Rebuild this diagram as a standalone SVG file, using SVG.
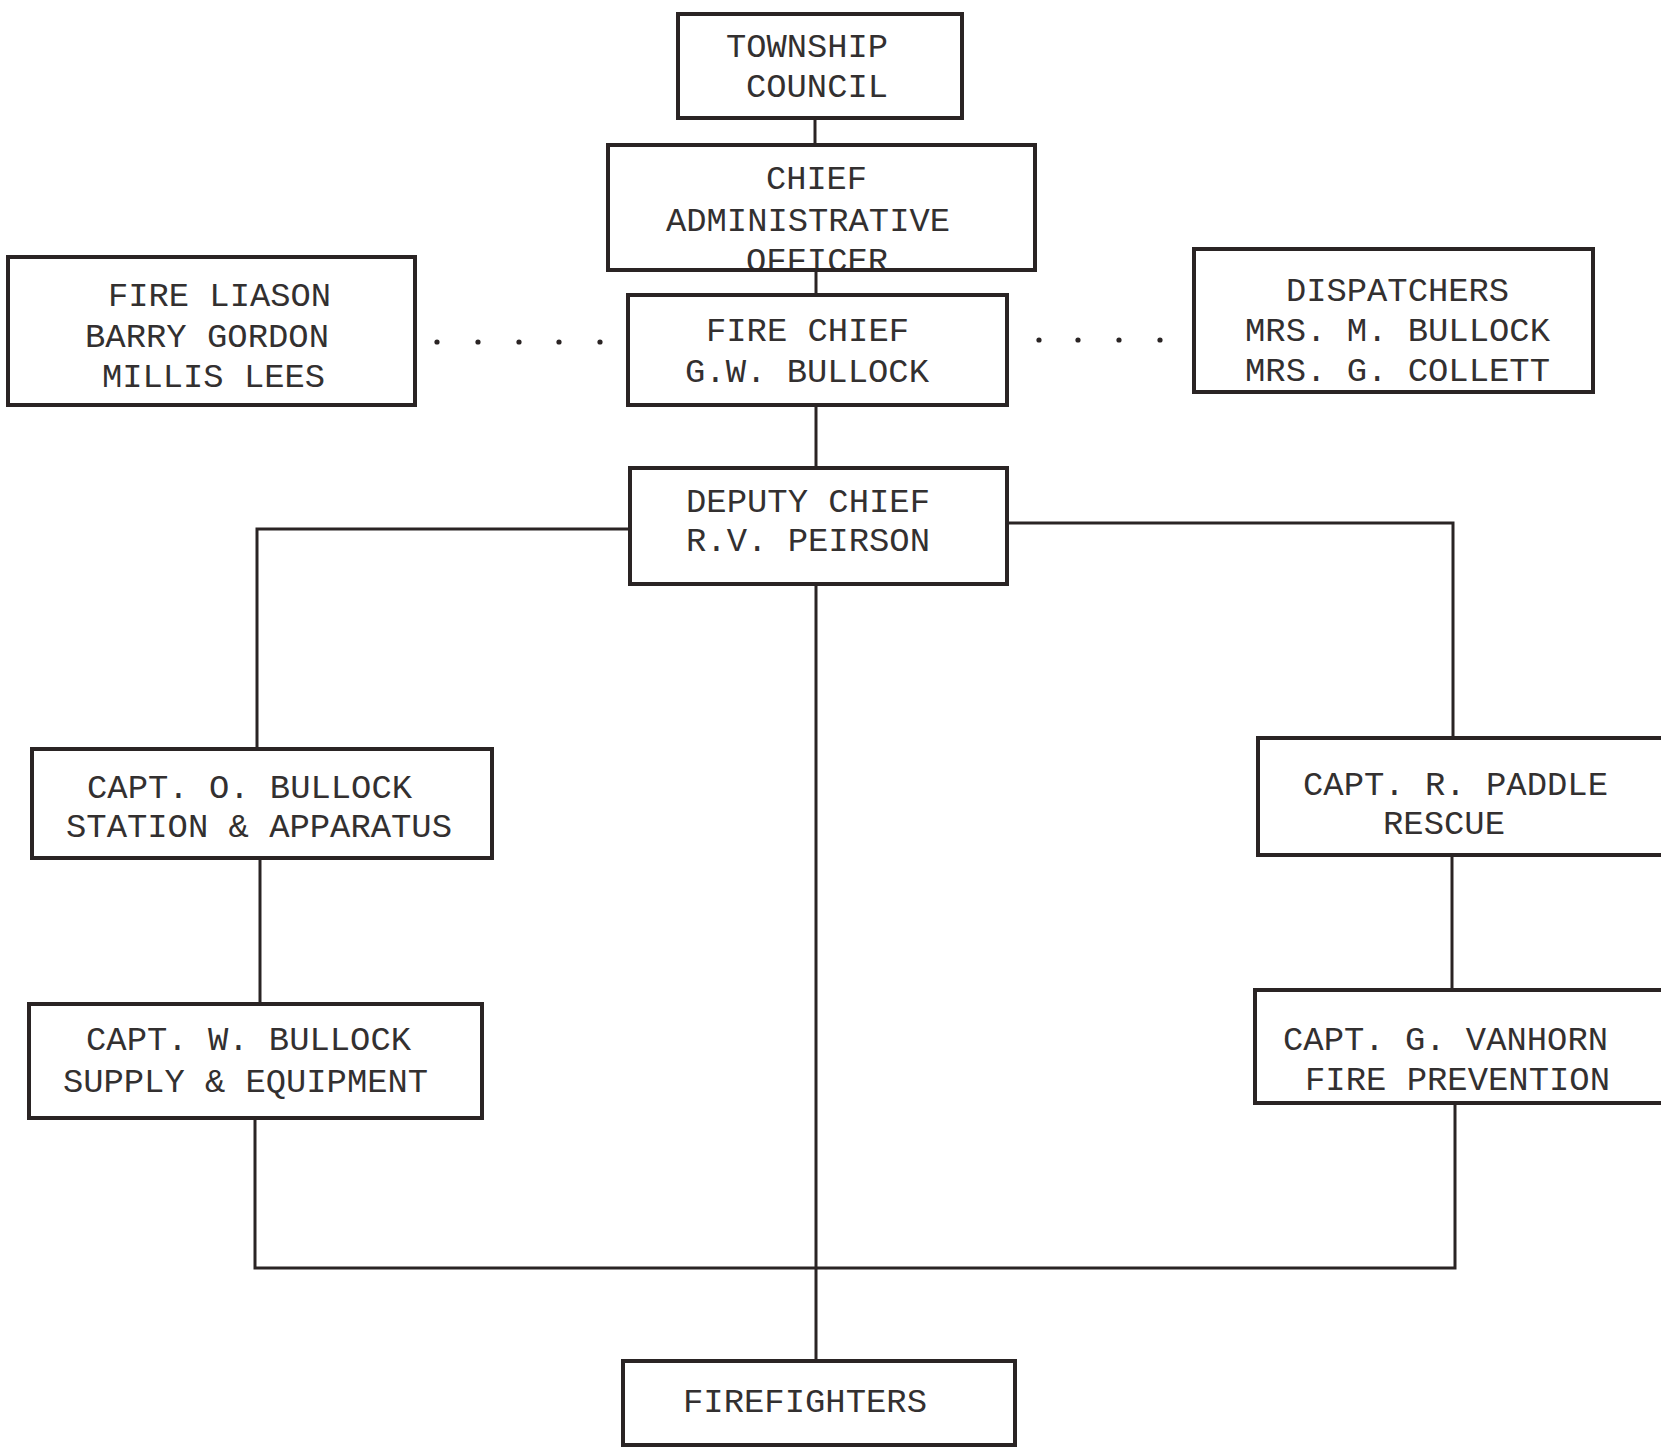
<svg xmlns="http://www.w3.org/2000/svg" width="1661" height="1448" viewBox="0 0 1661 1448">
<style>
.box{fill:none;stroke:#2a2424;stroke-width:4}
.ln{fill:none;stroke:#2a2424;stroke-width:3}
.t{font-family:"Liberation Mono","Courier New",monospace;font-size:34px;fill:#333030}
.dot{fill:#2a2424}
</style>
<rect width="1661" height="1448" fill="#ffffff"/>
<g id="connectors">
<path class="ln" d="M815 118V145"/>
<path class="ln" d="M816 270V295"/>
<path class="ln" d="M816 405V467"/>
<path class="ln" d="M630 529H257V749"/>
<path class="ln" d="M1007 523H1453V738"/>
<path class="ln" d="M260 858V1004"/>
<path class="ln" d="M255 1118V1268H1455V1103"/>
<path class="ln" d="M1452 855V990"/>
<path class="ln" d="M816 584V1361"/>
<g id="dots-left">
<circle class="dot" cx="437" cy="342" r="2.6"/>
<circle class="dot" cx="478" cy="342" r="2.6"/>
<circle class="dot" cx="519" cy="342" r="2.6"/>
<circle class="dot" cx="559" cy="342" r="2.6"/>
<circle class="dot" cx="600" cy="342" r="2.6"/>
</g>
<g id="dots-right">
<circle class="dot" cx="1039" cy="340" r="2.6"/>
<circle class="dot" cx="1078" cy="340" r="2.6"/>
<circle class="dot" cx="1119" cy="340" r="2.6"/>
<circle class="dot" cx="1160" cy="340" r="2.6"/>
</g>
</g>
<g id="township">
<rect class="box" x="678" y="14" width="284" height="104"/>
<text class="t" x="726" y="57" textLength="162" lengthAdjust="spacingAndGlyphs">TOWNSHIP</text>
<text class="t" x="746" y="97" textLength="142" lengthAdjust="spacingAndGlyphs">COUNCIL</text>
</g>
<g id="cao">
<text class="t" x="766" y="189" textLength="101" lengthAdjust="spacingAndGlyphs">CHIEF</text>
<text class="t" x="666" y="231" textLength="284" lengthAdjust="spacingAndGlyphs">ADMINISTRATIVE</text>
<text class="t" x="746" y="271" textLength="142" lengthAdjust="spacingAndGlyphs">OFFICER</text>
<rect class="box" x="608" y="145" width="427" height="125"/>
</g>
<g id="fire-chief">
<rect class="box" x="628" y="295" width="379" height="110"/>
<text class="t" x="706" y="341" textLength="203" lengthAdjust="spacingAndGlyphs">FIRE CHIEF</text>
<text class="t" x="685" y="382" textLength="244" lengthAdjust="spacingAndGlyphs">G.W. BULLOCK</text>
</g>
<g id="fire-liason">
<rect class="box" x="8" y="257" width="407" height="148"/>
<text class="t" x="108" y="306" textLength="223" lengthAdjust="spacingAndGlyphs">FIRE LIASON</text>
<text class="t" x="85" y="347" textLength="244" lengthAdjust="spacingAndGlyphs">BARRY GORDON</text>
<text class="t" x="102" y="387" textLength="223" lengthAdjust="spacingAndGlyphs">MILLIS LEES</text>
</g>
<g id="dispatchers">
<rect class="box" x="1194" y="249" width="399" height="143"/>
<text class="t" x="1286" y="301" textLength="223" lengthAdjust="spacingAndGlyphs">DISPATCHERS</text>
<text class="t" x="1245" y="341" textLength="305" lengthAdjust="spacingAndGlyphs">MRS. M. BULLOCK</text>
<text class="t" x="1245" y="381" textLength="305" lengthAdjust="spacingAndGlyphs">MRS. G. COLLETT</text>
</g>
<g id="deputy-chief">
<rect class="box" x="630" y="468" width="377" height="116"/>
<text class="t" x="686" y="512" textLength="244" lengthAdjust="spacingAndGlyphs">DEPUTY CHIEF</text>
<text class="t" x="686" y="551" textLength="244" lengthAdjust="spacingAndGlyphs">R.V. PEIRSON</text>
</g>
<g id="capt-o-bullock">
<rect class="box" x="32" y="749" width="460" height="109"/>
<text class="t" x="87" y="798" textLength="325" lengthAdjust="spacingAndGlyphs">CAPT. O. BULLOCK</text>
<text class="t" x="66" y="837" textLength="386" lengthAdjust="spacingAndGlyphs">STATION &amp; APPARATUS</text>
</g>
<g id="capt-w-bullock">
<rect class="box" x="29" y="1004" width="453" height="114"/>
<text class="t" x="86" y="1050" textLength="325" lengthAdjust="spacingAndGlyphs">CAPT. W. BULLOCK</text>
<text class="t" x="63" y="1092" textLength="365" lengthAdjust="spacingAndGlyphs">SUPPLY &amp; EQUIPMENT</text>
</g>
<g id="capt-r-paddle">
<rect class="box" x="1258" y="738" width="420" height="117"/>
<text class="t" x="1303" y="795" textLength="305" lengthAdjust="spacingAndGlyphs">CAPT. R. PADDLE</text>
<text class="t" x="1383" y="834" textLength="122" lengthAdjust="spacingAndGlyphs">RESCUE</text>
</g>
<g id="capt-g-vanhorn">
<rect class="box" x="1255" y="990" width="420" height="113"/>
<text class="t" x="1283" y="1050" textLength="325" lengthAdjust="spacingAndGlyphs">CAPT. G. VANHORN</text>
<text class="t" x="1305" y="1090" textLength="305" lengthAdjust="spacingAndGlyphs">FIRE PREVENTION</text>
</g>
<g id="firefighters">
<rect class="box" x="623" y="1361" width="392" height="84"/>
<text class="t" x="683" y="1412" textLength="244" lengthAdjust="spacingAndGlyphs">FIREFIGHTERS</text>
</g>
</svg>
